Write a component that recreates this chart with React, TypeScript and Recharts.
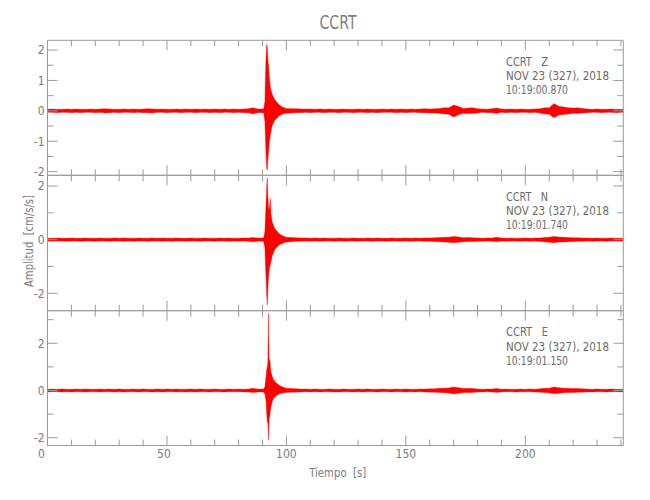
import React from 'react';
import { ComposedChart, Area, XAxis, YAxis } from 'recharts';

// time samples [s]
const times = [
  0, 2, 4, 6, 8, 10, 12, 14, 16, 18, 20, 22, 24, 26, 28, 30, 32, 34, 36, 38, 40, 42, 44, 46, 48, 50, 52, 54, 56, 58,
  60, 62, 64, 66, 68, 70, 72, 74, 76, 78, 80, 82, 84, 86, 88,
  89, 90, 90.5, 91, 91.25, 91.5, 91.75, 92, 92.25, 92.5, 92.75, 93, 93.25, 93.5, 94, 94.5, 95, 95.5, 96, 97, 98, 99, 100,
  102, 104, 106, 108, 110, 112, 114, 116, 118, 120, 122, 124, 126, 128, 130, 132, 134, 136, 138, 140,
  142, 144, 146, 148, 150, 152, 154, 156, 158, 160, 162, 164, 166, 168, 170, 172, 174, 176, 178, 180,
  182, 184, 186, 188, 190, 192, 194, 196, 198, 200, 202, 204, 206, 208, 210, 212, 214, 216, 218, 220,
  222, 224, 226, 228, 230, 232, 234, 236, 238, 240, 241,
];

// Z component envelope (upper / lower) [cm/s/s]
const zHi = [
  0.05, 0.06, 0.05, 0.05, 0.06, 0.05, 0.06, 0.05, 0.05, 0.06, 0.05, 0.06, 0.07, 0.06, 0.05, 0.05, 0.06, 0.05, 0.06, 0.05,
  0.06, 0.07, 0.06, 0.05, 0.06, 0.05, 0.05, 0.06, 0.05, 0.06, 0.05, 0.06, 0.05, 0.06, 0.05, 0.06, 0.05, 0.06, 0.05, 0.06,
  0.05, 0.06, 0.07, 0.1, 0.06,
  0.06, 0.06, 0.07, 0.3, 1.2, 1.8, 2.19, 2.1, 1.7, 1.5, 1.2, 1.0, 0.8, 0.7, 0.55, 0.46, 0.38, 0.33, 0.28, 0.2, 0.14, 0.1, 0.08,
  0.07, 0.07, 0.06, 0.06, 0.06, 0.05, 0.06, 0.05, 0.06, 0.05, 0.05, 0.06, 0.05, 0.05, 0.06, 0.05, 0.06, 0.05, 0.05, 0.06,
  0.05, 0.06, 0.05, 0.06, 0.05, 0.06, 0.05, 0.06, 0.07, 0.06, 0.07, 0.08, 0.1, 0.1, 0.19, 0.14, 0.08, 0.09, 0.1, 0.07,
  0.06, 0.05, 0.07, 0.09, 0.06, 0.05, 0.06, 0.05, 0.06, 0.05, 0.05, 0.06, 0.07, 0.1, 0.1, 0.24, 0.15, 0.13, 0.1, 0.09,
  0.1, 0.08, 0.06, 0.05, 0.06, 0.05, 0.05, 0.06, 0.05, 0.05, 0.05,
];
const zLo = [
  -0.05, -0.05, -0.06, -0.05, -0.05, -0.06, -0.05, -0.06, -0.05, -0.05, -0.06, -0.05, -0.07, -0.06, -0.05, -0.06, -0.05, -0.05, -0.06, -0.05,
  -0.06, -0.06, -0.07, -0.05, -0.05, -0.06, -0.05, -0.05, -0.06, -0.05, -0.05, -0.06, -0.05, -0.05, -0.06, -0.05, -0.06, -0.05, -0.05, -0.06,
  -0.05, -0.06, -0.06, -0.1, -0.06,
  -0.06, -0.06, -0.07, -0.35, -1.0, -1.5, -1.9, -1.95, -1.6, -1.4, -1.15, -0.96, -0.8, -0.7, -0.5, -0.41, -0.33, -0.28, -0.24, -0.16, -0.12, -0.09, -0.08,
  -0.07, -0.06, -0.06, -0.05, -0.06, -0.05, -0.05, -0.06, -0.05, -0.05, -0.06, -0.05, -0.05, -0.06, -0.05, -0.05, -0.06, -0.05, -0.06, -0.05,
  -0.05, -0.05, -0.06, -0.05, -0.06, -0.05, -0.05, -0.06, -0.06, -0.07, -0.07, -0.08, -0.1, -0.11, -0.2, -0.13, -0.08, -0.09, -0.09, -0.07,
  -0.05, -0.06, -0.06, -0.09, -0.05, -0.06, -0.05, -0.06, -0.05, -0.05, -0.06, -0.05, -0.07, -0.1, -0.11, -0.23, -0.14, -0.12, -0.1, -0.08,
  -0.09, -0.07, -0.06, -0.05, -0.05, -0.06, -0.05, -0.05, -0.06, -0.05, -0.05,
];

// N component envelope
const nHi = [
  0.05, 0.05, 0.06, 0.05, 0.05, 0.06, 0.05, 0.05, 0.06, 0.05, 0.05, 0.06, 0.05, 0.05, 0.06, 0.05, 0.06, 0.05, 0.05, 0.06,
  0.05, 0.05, 0.06, 0.05, 0.06, 0.05, 0.05, 0.06, 0.05, 0.05, 0.06, 0.05, 0.05, 0.06, 0.05, 0.05, 0.06, 0.05, 0.06, 0.05,
  0.05, 0.06, 0.06, 0.08, 0.06,
  0.06, 0.06, 0.08, 0.3, 0.9, 1.4, 2.0, 2.3, 1.6, 1.2, 1.1, 1.3, 1.54, 1.0, 0.68, 0.55, 0.44, 0.37, 0.32, 0.22, 0.16, 0.12, 0.09,
  0.08, 0.07, 0.06, 0.06, 0.05, 0.06, 0.05, 0.06, 0.05, 0.05, 0.06, 0.05, 0.05, 0.06, 0.05, 0.05, 0.06, 0.05, 0.06, 0.05,
  0.05, 0.06, 0.05, 0.05, 0.06, 0.05, 0.06, 0.05, 0.06, 0.06, 0.07, 0.08, 0.09, 0.09, 0.12, 0.1, 0.07, 0.08, 0.07, 0.06,
  0.05, 0.06, 0.06, 0.09, 0.06, 0.05, 0.06, 0.05, 0.05, 0.06, 0.05, 0.06, 0.06, 0.08, 0.09, 0.12, 0.1, 0.09, 0.08, 0.07,
  0.07, 0.06, 0.06, 0.05, 0.06, 0.05, 0.05, 0.06, 0.05, 0.05, 0.05,
];
const nLo = [
  -0.05, -0.06, -0.05, -0.05, -0.06, -0.05, -0.05, -0.06, -0.05, -0.05, -0.06, -0.05, -0.05, -0.06, -0.05, -0.05, -0.06, -0.05, -0.06, -0.05,
  -0.05, -0.06, -0.05, -0.05, -0.06, -0.05, -0.06, -0.05, -0.05, -0.06, -0.05, -0.05, -0.06, -0.05, -0.05, -0.06, -0.05, -0.05, -0.06, -0.05,
  -0.06, -0.05, -0.06, -0.08, -0.06,
  -0.06, -0.06, -0.08, -0.3, -1.0, -1.5, -2.1, -2.44, -1.8, -1.4, -1.2, -1.0, -0.95, -0.85, -0.62, -0.5, -0.4, -0.33, -0.28, -0.2, -0.15, -0.11, -0.09,
  -0.08, -0.06, -0.06, -0.05, -0.06, -0.05, -0.06, -0.05, -0.05, -0.06, -0.05, -0.06, -0.05, -0.05, -0.06, -0.05, -0.05, -0.06, -0.05, -0.05,
  -0.06, -0.05, -0.05, -0.06, -0.05, -0.06, -0.05, -0.05, -0.06, -0.06, -0.07, -0.08, -0.09, -0.1, -0.12, -0.1, -0.08, -0.07, -0.07, -0.06,
  -0.06, -0.05, -0.06, -0.08, -0.05, -0.06, -0.05, -0.05, -0.06, -0.05, -0.06, -0.05, -0.07, -0.08, -0.1, -0.12, -0.09, -0.09, -0.08, -0.07,
  -0.06, -0.06, -0.05, -0.06, -0.05, -0.05, -0.06, -0.05, -0.05, -0.06, -0.05,
];

// E component envelope
const eHi = [
  0.05, 0.06, 0.05, 0.06, 0.05, 0.05, 0.06, 0.05, 0.06, 0.05, 0.05, 0.06, 0.05, 0.06, 0.05, 0.06, 0.05, 0.05, 0.06, 0.05,
  0.06, 0.05, 0.05, 0.06, 0.05, 0.06, 0.05, 0.06, 0.05, 0.05, 0.06, 0.05, 0.06, 0.05, 0.05, 0.06, 0.05, 0.05, 0.06, 0.05,
  0.06, 0.05, 0.06, 0.09, 0.06,
  0.06, 0.06, 0.07, 0.15, 0.4, 0.6, 0.9, 1.0, 1.2, 3.27, 1.3, 1.32, 1.1, 0.8, 0.62, 0.47, 0.4, 0.35, 0.3, 0.22, 0.17, 0.13, 0.1,
  0.08, 0.07, 0.06, 0.06, 0.05, 0.06, 0.05, 0.05, 0.06, 0.05, 0.05, 0.06, 0.05, 0.05, 0.06, 0.05, 0.06, 0.05, 0.05, 0.06,
  0.05, 0.05, 0.06, 0.05, 0.06, 0.05, 0.05, 0.06, 0.06, 0.07, 0.07, 0.09, 0.1, 0.11, 0.15, 0.12, 0.08, 0.09, 0.08, 0.06,
  0.05, 0.06, 0.06, 0.08, 0.05, 0.06, 0.05, 0.05, 0.06, 0.05, 0.06, 0.05, 0.07, 0.09, 0.1, 0.15, 0.12, 0.1, 0.09, 0.08,
  0.08, 0.07, 0.06, 0.05, 0.06, 0.05, 0.05, 0.06, 0.05, 0.05, 0.05,
];
const eLo = [
  -0.06, -0.05, -0.05, -0.06, -0.05, -0.06, -0.05, -0.05, -0.06, -0.05, -0.05, -0.06, -0.05, -0.05, -0.06, -0.05, -0.06, -0.05, -0.05, -0.06,
  -0.05, -0.05, -0.06, -0.05, -0.06, -0.05, -0.05, -0.06, -0.05, -0.06, -0.05, -0.06, -0.05, -0.05, -0.06, -0.05, -0.05, -0.06, -0.05, -0.05,
  -0.05, -0.06, -0.06, -0.09, -0.06,
  -0.06, -0.06, -0.07, -0.15, -0.3, -0.45, -1.0, -1.35, -1.4, -2.1, -1.2, -1.1, -0.9, -0.7, -0.5, -0.36, -0.3, -0.25, -0.2, -0.15, -0.12, -0.1, -0.08,
  -0.07, -0.07, -0.06, -0.05, -0.06, -0.05, -0.06, -0.05, -0.05, -0.06, -0.06, -0.05, -0.05, -0.06, -0.05, -0.06, -0.05, -0.05, -0.06, -0.05,
  -0.05, -0.06, -0.05, -0.05, -0.06, -0.05, -0.06, -0.05, -0.06, -0.07, -0.07, -0.08, -0.1, -0.11, -0.15, -0.12, -0.09, -0.08, -0.08, -0.06,
  -0.06, -0.05, -0.06, -0.08, -0.06, -0.05, -0.05, -0.06, -0.05, -0.05, -0.05, -0.06, -0.07, -0.09, -0.1, -0.14, -0.12, -0.1, -0.08, -0.08,
  -0.07, -0.07, -0.06, -0.06, -0.05, -0.05, -0.06, -0.05, -0.05, -0.06, -0.05,
];

const xTicks = [0, 10, 20, 30, 40, 50, 60, 70, 80, 90, 100, 110, 120, 130, 140, 150, 160, 170, 180, 190, 200, 210, 220, 230, 240];
const xMajor = [0, 50, 100, 150, 200];

const zTicks = [-2, -1.5, -1, -0.5, 0, 0.5, 1, 1.5, 2];
const zMajor = [-2, -1, 0, 1, 2];
const nTicks = [-2, -1, 0, 1, 2];
const nMajor = [-2, 0, 2];
const eTicks = [-2, -1, 0, 1, 2, 3];
const eMajor = [-2, 0, 2];

const panelLabels = [
  ['CCRT\u00a0\u00a0\u00a0Z', 'NOV 23 (327), 2018', '10:19:00.870'],
  ['CCRT\u00a0\u00a0\u00a0N', 'NOV 23 (327), 2018', '10:19:01.740'],
  ['CCRT\u00a0\u00a0\u00a0E', 'NOV 23 (327), 2018', '10:19:01.150'],
];

const data = times.map((t, i) => ({
  t,
  z: [zLo[i], zHi[i]],
  n: [nLo[i], nHi[i]],
  e: [eLo[i], eHi[i]],
}));

const FONT = "'Liberation Sans Narrow', 'DejaVu Sans Condensed', 'Arial Narrow', sans-serif";
const AX = '#9a9a9a';
const TXT = '#7a7a7a';
const PLOT_L = 47.5;
const PLOT_R = 623.3;

const panels = [
  { key: 'z', top: 40.3, bottom: 175.3, domain: [-2.12, 2.32], ticks: zTicks, major: zMajor },
  { key: 'n', top: 175.3, bottom: 310.7, domain: [-2.65, 2.4], ticks: nTicks, major: nMajor },
  { key: 'e', top: 310.7, bottom: 445.5, domain: [-2.33, 3.38], ticks: eTicks, major: eMajor },
];

const makeXTick = (side: 'top' | 'bottom', labels: boolean) => (props: any) => {
  const { x, y, payload } = props;
  const v = payload.value;
  const major = xMajor.includes(v);
  const len = major ? 10 : 6;
  const y2 = side === 'bottom' ? y - len : y + len;
  return (
    <g>
      <line x1={x} y1={y} x2={x} y2={y2} stroke={AX} strokeWidth={1} />
      {labels && major ? (
        <text x={x + (v === 0 ? -6 : v === 50 ? -3 : 0)} y={y + 12} textAnchor="middle" fontSize={12} fill={TXT} fontFamily={FONT}>
          {String(v)}
        </text>
      ) : null}
    </g>
  );
};

const makeYTick = (side: 'left' | 'right', major: number[]) => (props: any) => {
  const { x, y, payload } = props;
  const v = payload.value;
  const isMajor = major.includes(v);
  const len = isMajor ? 10 : 6;
  const x2 = side === 'left' ? x + len : x - len;
  return (
    <g>
      <line x1={x} y1={y} x2={x2} y2={y} stroke={AX} strokeWidth={1} />
      {side === 'left' && isMajor ? (
        <text x={x - 3} y={y + 4.3} textAnchor="end" fontSize={12} fill={TXT} fontFamily={FONT}>
          {v < 0 ? '-' + String(-v) : String(v)}
        </text>
      ) : null}
    </g>
  );
};

function Panel({ p, idx }: { p: any; idx: number }) {
  const last = idx === 2;
  return (
    <div style={{ position: 'absolute', left: 0, top: 0 }}>
      <ComposedChart
        width={650}
        height={500}
        data={data}
        margin={{ top: p.top - 10, bottom: 500 - p.bottom - 10, left: PLOT_L - 40, right: 650 - PLOT_R - 10 }}
      >
        <XAxis
          dataKey="t"
          type="number"
          xAxisId="b"
          orientation="bottom"
          domain={[0, 241]}
          allowDataOverflow
          ticks={xTicks}
          interval={0}
          height={10}
          tickSize={0}
          tickMargin={0}
          tickLine={false}
          axisLine={{ stroke: AX }}
          tick={makeXTick('bottom', last)}
        />
        <XAxis
          dataKey="t"
          type="number"
          xAxisId="t"
          orientation="top"
          domain={[0, 241]}
          allowDataOverflow
          ticks={xTicks}
          interval={0}
          height={10}
          tickSize={0}
          tickMargin={0}
          tickLine={false}
          axisLine={{ stroke: AX }}
          tick={makeXTick('top', false)}
        />
        <YAxis
          yAxisId="l"
          orientation="left"
          type="number"
          domain={p.domain}
          allowDataOverflow
          ticks={p.ticks}
          interval={0}
          width={40}
          tickSize={0}
          tickMargin={0}
          tickLine={false}
          axisLine={{ stroke: AX }}
          tick={makeYTick('left', p.major)}
        />
        <YAxis
          yAxisId="r"
          orientation="right"
          type="number"
          domain={p.domain}
          allowDataOverflow
          ticks={p.ticks}
          interval={0}
          width={10}
          tickSize={0}
          tickMargin={0}
          tickLine={false}
          axisLine={{ stroke: AX }}
          tick={makeYTick('right', p.major)}
        />
        <Area
          xAxisId="b"
          yAxisId="l"
          type="linear"
          dataKey={p.key}
          stroke="#ff0000"
          strokeWidth={0.4}
          fill="#ff0000"
          fillOpacity={1}
          dot={false}
          activeDot={false}
          isAnimationActive={false}
        />
      </ComposedChart>
    </div>
  );
}

export default function App() {
  return (
    <div style={{ position: 'absolute', left: 0, top: 0, width: 650, height: 500, background: '#fff' }}>
      {panels.map((p, i) => (
        <Panel key={p.key} p={p} idx={i} />
      ))}
      <svg width={650} height={500} style={{ position: 'absolute', left: 0, top: 0, pointerEvents: 'none' }}>
        <text x={338} y={29} textAnchor="middle" fontSize={19} fill="#808080" fontFamily={FONT} textLength={37} lengthAdjust="spacingAndGlyphs">
          CCRT
        </text>
        {panels.map((p, i) => (
          <g key={p.key}>
            {panelLabels[i].map((s, j) => (
              <text
                key={j}
                x={506}
                y={p.top + 25.7 + j * 14.2}
                fontSize={12}
                fill="#6a6a6a"
                fontFamily={FONT}
                textLength={j === 0 ? 42 : j === 1 ? 103 : 62}
                lengthAdjust="spacingAndGlyphs"
              >
                {s}
              </text>
            ))}
          </g>
        ))}
        <text
          x={0}
          y={0}
          transform="translate(33,241) rotate(-90)"
          textAnchor="middle"
          fontSize={13}
          fill={TXT}
          fontFamily={FONT}
          textLength={92}
          lengthAdjust="spacingAndGlyphs"
        >
          {'Amplitud\u00a0\u00a0[cm/s/s]'}
        </text>
        <text x={337.7} y={476.5} textAnchor="middle" fontSize={12.5} fill={TXT} fontFamily={FONT} textLength={57} lengthAdjust="spacingAndGlyphs">
          {'Tiempo\u00a0\u00a0[s]'}
        </text>
      </svg>
    </div>
  );
}
